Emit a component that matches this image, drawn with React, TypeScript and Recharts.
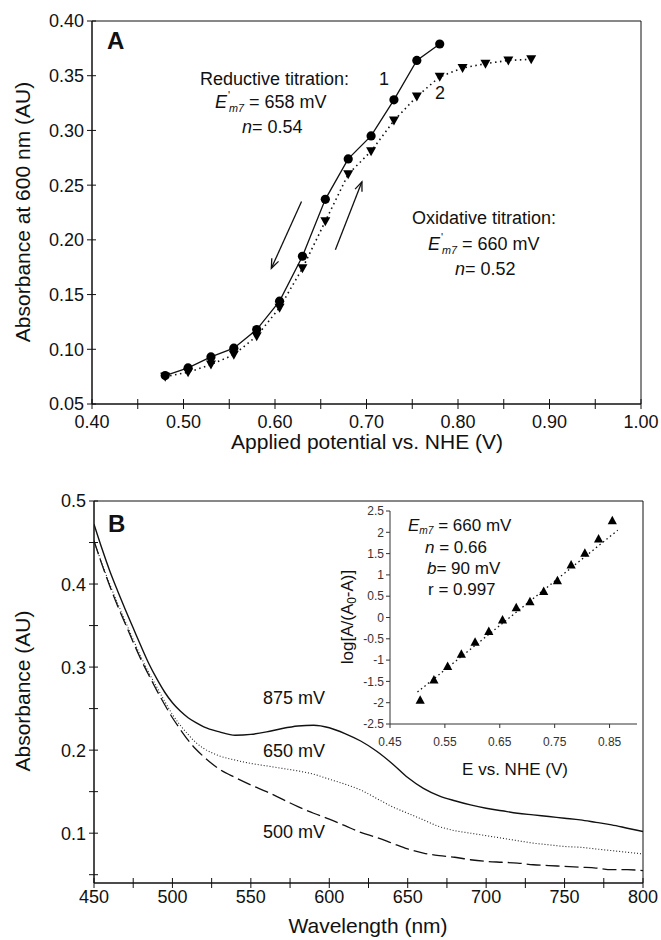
import React from "react";
import {
  LineChart,
  Line,
  XAxis,
  YAxis,
  ReferenceArea,
  ReferenceLine,
} from "recharts";

const FONT = '"Liberation Sans", Arial, Helvetica, sans-serif';
const INK = "#111";

// ---- panel A: titration at 600 nm ----
const redPotential = [0.48, 0.505, 0.53, 0.555, 0.58, 0.605, 0.63, 0.655, 0.68, 0.705, 0.73, 0.755, 0.78];
const redAbs = [0.076, 0.083, 0.093, 0.101, 0.118, 0.144, 0.185, 0.237, 0.274, 0.295, 0.328, 0.364, 0.379];
const oxPotential = [0.48, 0.505, 0.53, 0.555, 0.58, 0.605, 0.63, 0.655, 0.68, 0.705, 0.73, 0.755, 0.78, 0.805, 0.83, 0.855, 0.88];
const oxAbs = [0.075, 0.079, 0.086, 0.095, 0.112, 0.138, 0.174, 0.217, 0.26, 0.281, 0.309, 0.331, 0.349, 0.357, 0.361, 0.364, 0.365];
const aXTicks = [0.4, 0.45, 0.5, 0.55, 0.6, 0.65, 0.7, 0.75, 0.8, 0.85, 0.9, 0.95, 1.0];
const aXLabelled = [0.4, 0.5, 0.6, 0.7, 0.8, 0.9, 1.0];
const aYTicks = [0.05, 0.1, 0.15, 0.2, 0.25, 0.3, 0.35, 0.4];
// arrows: [start, end] in data units
const arrowDown = [{ x: 0.629, y: 0.235 }, { x: 0.596, y: 0.174 }];
const arrowUp = [{ x: 0.666, y: 0.191 }, { x: 0.695, y: 0.253 }];

// ---- panel B: spectra ----
const wavelength = [450, 455, 460, 465, 470, 475, 480, 485, 490, 495, 500, 505, 510, 515, 520, 530, 540, 550, 560, 570, 580, 590, 600, 610, 620, 630, 640, 650, 660, 670, 680, 690, 700, 710, 720, 730, 740, 750, 760, 770, 780, 790, 800];
const abs875 = [0.472, 0.443, 0.416, 0.392, 0.369, 0.347, 0.325, 0.304, 0.286, 0.27, 0.257, 0.247, 0.239, 0.233, 0.228, 0.222, 0.218, 0.219, 0.222, 0.226, 0.229, 0.23, 0.227, 0.22, 0.211, 0.199, 0.184, 0.167, 0.154, 0.145, 0.139, 0.134, 0.13, 0.127, 0.124, 0.122, 0.12, 0.118, 0.116, 0.113, 0.11, 0.106, 0.102];
const abs650 = [0.452, 0.425, 0.4, 0.377, 0.355, 0.333, 0.312, 0.293, 0.276, 0.259, 0.243, 0.23, 0.219, 0.209, 0.202, 0.193, 0.188, 0.184, 0.181, 0.178, 0.175, 0.171, 0.165, 0.159, 0.152, 0.142, 0.132, 0.124, 0.116, 0.108, 0.103, 0.1, 0.097, 0.094, 0.091, 0.088, 0.086, 0.084, 0.083, 0.081, 0.079, 0.077, 0.075];
const abs500 = [0.452, 0.424, 0.398, 0.374, 0.352, 0.33, 0.309, 0.29, 0.272, 0.255, 0.239, 0.225, 0.212, 0.201, 0.192, 0.177, 0.167, 0.158, 0.15, 0.141, 0.132, 0.124, 0.117, 0.109, 0.101, 0.095, 0.088, 0.081, 0.076, 0.073, 0.071, 0.068, 0.066, 0.065, 0.064, 0.062, 0.061, 0.06, 0.059, 0.058, 0.056, 0.056, 0.055];
const bXTicks = [450, 475, 500, 525, 550, 575, 600, 625, 650, 675, 700, 725, 750, 775, 800];
const bXLabelled = [450, 500, 550, 600, 650, 700, 750, 800];
const bYTicks = [0.05, 0.1, 0.15, 0.2, 0.25, 0.3, 0.35, 0.4, 0.45, 0.5];
const bYLabelled = [0.1, 0.2, 0.3, 0.4, 0.5];

// ---- inset: Nernst plot ----
const nernstE = [0.505, 0.53, 0.555, 0.58, 0.605, 0.63, 0.655, 0.68, 0.705, 0.73, 0.755, 0.78, 0.805, 0.83, 0.855];
const nernstLog = [-1.94, -1.47, -1.15, -0.86, -0.58, -0.33, -0.06, 0.23, 0.37, 0.61, 0.86, 1.23, 1.51, 1.84, 2.27];
const fitE = [0.5, 0.865];
const fitLog = [-1.75, 2.05];
const insetXTicks = [0.45, 0.55, 0.65, 0.75, 0.85];
const insetYTicks = [-2.5, -2, -1.5, -1, -0.5, 0, 0.5, 1, 1.5, 2, 2.5];

const pts = (xs: number[], ys: number[]) => xs.map((x, i) => ({ x, y: ys[i] }));
const has = (list: number[], v: number) => list.some((l) => Math.abs(l - v) < 1e-6);

// ticks that cross the axis line (tickSize 5 + tickMargin 3 = 8)
function xTick(labelled: number[], digits: number, gap: number) {
  return (p: any) => {
    const { x, y, payload } = p;
    const v = payload.value as number;
    const ay = y - 8;
    return (
      <g>
        <line x1={x} x2={x} y1={ay - 5} y2={ay + 5} stroke={INK} />
        {has(labelled, v) && (
          <text x={x} y={ay + gap} dy="0.72em" textAnchor="middle" fontSize={18} fill={INK} fontFamily={FONT}>
            {v.toFixed(digits)}
          </text>
        )}
      </g>
    );
  };
}

function yTick(labelled: number[], digits: number) {
  return (p: any) => {
    const { x, y, payload } = p;
    const v = payload.value as number;
    const ax = x + 8;
    return (
      <g>
        <line x1={ax - 5} x2={ax + 4} y1={y} y2={y} stroke={INK} />
        {has(labelled, v) && (
          <text x={ax - 8} y={y} dy="0.36em" textAnchor="end" fontSize={18} fill={INK} fontFamily={FONT}>
            {v.toFixed(digits)}
          </text>
        )}
      </g>
    );
  };
}

const Arrow = (p: any) => {
  const { x1, y1, x2, y2 } = p;
  const a = Math.atan2(y2 - y1, x2 - x1);
  const L = 10;
  const s = 0.38;
  const h1x = x2 - L * Math.cos(a - s);
  const h1y = y2 - L * Math.sin(a - s);
  const h2x = x2 - L * Math.cos(a + s);
  const h2y = y2 - L * Math.sin(a + s);
  return (
    <g stroke={INK} strokeWidth={1.3} fill="none">
      <line x1={x1} y1={y1} x2={x2} y2={y2} />
      <polyline points={`${h1x},${h1y} ${x2},${y2} ${h2x},${h2y}`} />
    </g>
  );
};

const Circle = (p: any) => <circle key={`c${p.index}`} cx={p.cx} cy={p.cy} r={4.6} fill="#000" />;
const TriDown = (p: any) => (
  <path key={`t${p.index}`} d={`M${p.cx - 5},${p.cy - 4} L${p.cx + 5},${p.cy - 4} L${p.cx},${p.cy + 5} Z`} fill="#000" />
);
const TriUp = (p: any) => (
  <path key={`u${p.index}`} d={`M${p.cx},${p.cy - 5} L${p.cx + 4.6},${p.cy + 3.5} L${p.cx - 4.6},${p.cy + 3.5} Z`} fill="#000" />
);

type TxtProps = { x: number; base: number; size?: number; anchor?: "start" | "middle"; bold?: boolean; children: React.ReactNode };
function Txt({ x, base, size = 18, anchor = "start", bold = false, children }: TxtProps) {
  return (
    <div
      style={{
        position: "absolute",
        left: x,
        top: base - 0.8465 * size,
        fontSize: size,
        lineHeight: 1,
        fontWeight: bold ? 700 : 400,
        whiteSpace: "nowrap",
        transform: anchor === "middle" ? "translateX(-50%)" : undefined,
      }}
    >
      {children}
    </div>
  );
}

function VTxt({ cx, cy, size = 21, children }: { cx: number; cy: number; size?: number; children: React.ReactNode }) {
  return (
    <div
      style={{
        position: "absolute",
        left: cx,
        top: cy,
        fontSize: size,
        lineHeight: 1,
        whiteSpace: "nowrap",
        transform: "translate(-50%, -50%) rotate(-90deg)",
      }}
    >
      {children}
    </div>
  );
}

const Em7 = ({ prime = false }: { prime?: boolean }) => (
  <span>
    <i>E</i>
    {prime && <span style={{ fontSize: "0.6em", position: "relative", top: "-0.8em", marginLeft: 1 }}>'</span>}
    <i style={{ fontSize: "0.6em", position: "relative", top: "0.35em", marginLeft: prime ? "-0.1em" : 0 }}>m7</i>
  </span>
);

export default function App() {
  return (
    <div style={{ position: "absolute", left: 0, top: 0, width: 661, height: 940, background: "#fff", fontFamily: FONT, color: INK }}>
      {/* Panel A */}
      <div style={{ position: "absolute", left: 0, top: 0 }}>
        <LineChart width={661} height={460} margin={{ top: 21, right: 20, bottom: 26, left: 40 }}>
          <XAxis
            type="number"
            dataKey="x"
            domain={[0.4, 1.0]}
            ticks={aXTicks}
            allowDataOverflow
            height={30}
            tickSize={5}
            tickMargin={3}
            tickLine={false}
            axisLine={{ stroke: INK }}
            tick={xTick(aXLabelled, 2, 11)}
            interval={0}
          />
          <YAxis
            type="number"
            domain={[0.05, 0.4]}
            ticks={aYTicks}
            allowDataOverflow
            width={52}
            tickSize={5}
            tickMargin={3}
            tickLine={false}
            axisLine={{ stroke: INK }}
            tick={yTick(aYTicks, 2)}
            interval={0}
          />
          <ReferenceArea x1={0.4} x2={1.0} y1={0.05} y2={0.4} fill="none" stroke={INK} strokeWidth={1} />
          <ReferenceLine segment={arrowDown} shape={Arrow} />
          <ReferenceLine segment={arrowUp} shape={Arrow} />
          <Line
            data={pts(oxPotential, oxAbs)}
            dataKey="y"
            type="linear"
            stroke={INK}
            strokeWidth={1.6}
            strokeDasharray="1.5 3.5"
            dot={TriDown}
            isAnimationActive={false}
          />
          <Line
            data={pts(redPotential, redAbs)}
            dataKey="y"
            type="linear"
            stroke={INK}
            strokeWidth={1.3}
            dot={Circle}
            isAnimationActive={false}
          />
        </LineChart>
      </div>

      {/* Panel B */}
      <div style={{ position: "absolute", left: 0, top: 470 }}>
        <LineChart width={661} height={470} margin={{ top: 31, right: 18, bottom: 27, left: 42 }}>
          <XAxis
            type="number"
            dataKey="x"
            domain={[450, 800]}
            ticks={bXTicks}
            allowDataOverflow
            height={30}
            tickSize={5}
            tickMargin={3}
            tickLine={false}
            axisLine={{ stroke: INK }}
            tick={xTick(bXLabelled, 0, 7)}
            interval={0}
          />
          <YAxis
            type="number"
            domain={[0.04, 0.5]}
            ticks={bYTicks}
            allowDataOverflow
            width={52}
            tickSize={5}
            tickMargin={3}
            tickLine={false}
            axisLine={{ stroke: INK }}
            tick={yTick(bYLabelled, 1)}
            interval={0}
          />
          <ReferenceArea x1={450} x2={800} y1={0.04} y2={0.5} fill="none" stroke={INK} strokeWidth={1} />
          <Line data={pts(wavelength, abs500)} dataKey="y" type="monotone" stroke={INK} strokeWidth={1.3} strokeDasharray="14 5" dot={false} isAnimationActive={false} />
          <Line data={pts(wavelength, abs650)} dataKey="y" type="monotone" stroke="#222" strokeWidth={1.1} strokeDasharray="1 2" dot={false} isAnimationActive={false} />
          <Line data={pts(wavelength, abs875)} dataKey="y" type="monotone" stroke={INK} strokeWidth={1.4} dot={false} isAnimationActive={false} />
        </LineChart>
      </div>

      {/* Inset */}
      <div style={{ position: "absolute", left: 340, top: 490 }}>
        <LineChart width={301} height={264} margin={{ top: 21, right: 4, bottom: 10, left: 20 }}>
          <XAxis
            type="number"
            dataKey="x"
            domain={[0.45, 0.9]}
            ticks={insetXTicks}
            allowDataOverflow
            height={20}
            tickSize={4}
            tickMargin={9}
            axisLine={{ stroke: "#333" }}
            tickLine={{ stroke: "#333" }}
            tick={{ fontSize: 12, fill: "#333", fontFamily: FONT }}
            tickFormatter={(v: number) => v.toFixed(2)}
            interval={0}
          />
          <YAxis
            type="number"
            domain={[-2.5, 2.5]}
            ticks={insetYTicks}
            allowDataOverflow
            width={30}
            tickSize={4}
            tickMargin={2}
            axisLine={{ stroke: "#333" }}
            tickLine={{ stroke: "#333" }}
            tick={{ fontSize: 12, fill: "#333", fontFamily: FONT }}
            tickFormatter={(v: number) => String(v)}
            interval={0}
          />
          <Line data={pts(fitE, fitLog)} dataKey="y" type="linear" stroke={INK} strokeWidth={1.3} strokeDasharray="1.5 3" dot={false} isAnimationActive={false} />
          <Line data={pts(nernstE, nernstLog)} dataKey="y" type="linear" stroke="none" dot={TriUp} isAnimationActive={false} />
        </LineChart>
      </div>

      {/* Panel A text */}
      <Txt x={107} base={49} size={24} bold>A</Txt>
      <Txt x={200} base={85}>Reductive titration:</Txt>
      <Txt x={379} base={85}>1</Txt>
      <Txt x={215} base={108}>
        <Em7 prime /> = 658 mV
      </Txt>
      <Txt x={242} base={133}>
        <i>n</i>= 0.54
      </Txt>
      <Txt x={435} base={99}>2</Txt>
      <Txt x={412} base={224}>Oxidative titration:</Txt>
      <Txt x={428} base={250}>
        <Em7 prime /> = 660 mV
      </Txt>
      <Txt x={455} base={275}>
        <i>n</i>= 0.52
      </Txt>
      <Txt x={367} base={449} size={21} anchor="middle">Applied potential vs. NHE (V)</Txt>
      <VTxt cx={22} cy={212}>Absorbance at 600 nm (AU)</VTxt>

      {/* Panel B text */}
      <Txt x={108} base={532} size={24} bold>B</Txt>
      <Txt x={263} base={704}>875 mV</Txt>
      <Txt x={263} base={757}>650 mV</Txt>
      <Txt x={263} base={838}>500 mV</Txt>
      <Txt x={368} base={933} size={21} anchor="middle">Wavelength (nm)</Txt>
      <VTxt cx={22} cy={691}>Absorbance (AU)</VTxt>

      {/* Inset text */}
      <Txt x={408} base={531} size={17}>
        <Em7 /> = 660 mV
      </Txt>
      <Txt x={425} base={553} size={17}>
        <i>n</i> = 0.66
      </Txt>
      <Txt x={427} base={574} size={17}>
        <i>b</i>= 90 mV
      </Txt>
      <Txt x={428} base={595} size={17}>r = 0.997</Txt>
      <Txt x={515} base={775} size={17} anchor="middle">E vs. NHE (V)</Txt>
      <VTxt cx={347} cy={617} size={17}>
        log[A/(A<span style={{ fontSize: "0.7em", position: "relative", top: "0.25em" }}>0</span>-A)]
      </VTxt>
    </div>
  );
}
